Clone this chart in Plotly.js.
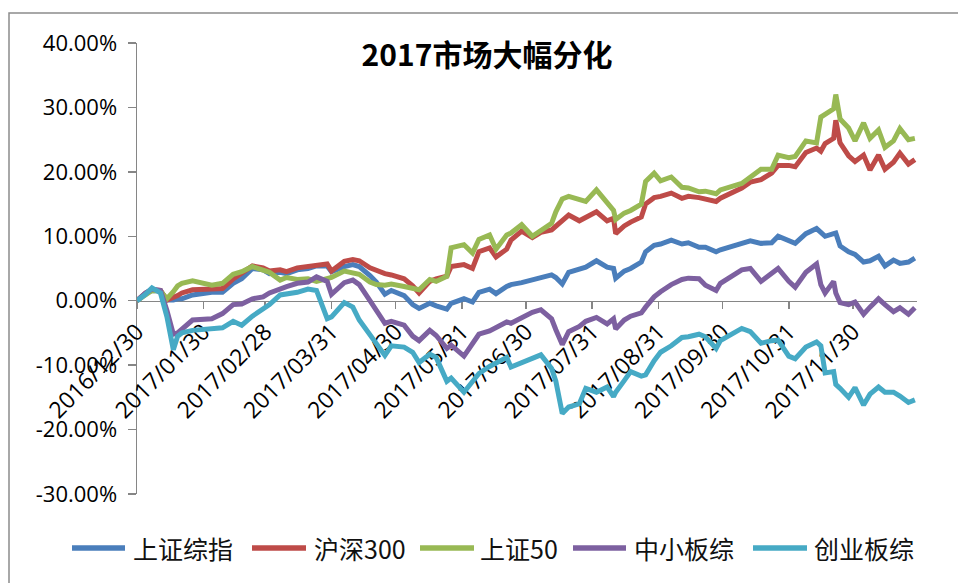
<!DOCTYPE html>
<html>
<head>
<meta charset="utf-8">
<script src="https://cdn.plot.ly/plotly-3.0.1.min.js"></script>
<style>
html,body{margin:0;padding:0;background:#fff;}
#chart{width:958px;height:583px;}
</style>
</head>
<body>
<div id="chart"></div>
<script>
const dates = [
'2016-12-30','2017-01-03','2017-01-06','2017-01-10','2017-01-13','2017-01-16','2017-01-18','2017-01-20','2017-01-25','2017-02-03',
'2017-02-08','2017-02-13','2017-02-17','2017-02-22','2017-02-27','2017-03-02','2017-03-07','2017-03-10','2017-03-15','2017-03-20',
'2017-03-24','2017-03-29','2017-03-31','2017-04-06','2017-04-10','2017-04-13','2017-04-18','2017-04-21','2017-04-25','2017-04-28',
'2017-05-04','2017-05-08','2017-05-11','2017-05-16','2017-05-19','2017-05-24','2017-05-26','2017-06-01','2017-06-05','2017-06-08',
'2017-06-13','2017-06-16','2017-06-21','2017-06-23','2017-06-28','2017-07-03','2017-07-07','2017-07-12','2017-07-14','2017-07-17',
'2017-07-20','2017-07-25','2017-07-28','2017-08-02','2017-08-07','2017-08-10','2017-08-11','2017-08-15','2017-08-18','2017-08-23',
'2017-08-25','2017-08-29','2017-09-01','2017-09-06','2017-09-11','2017-09-14','2017-09-19','2017-09-22','2017-09-27','2017-09-29',
'2017-10-09','2017-10-13','2017-10-18','2017-10-23','2017-10-26','2017-10-31','2017-11-03','2017-11-08','2017-11-13','2017-11-15',
'2017-11-17','2017-11-21','2017-11-22','2017-11-24','2017-11-28','2017-12-01','2017-12-05','2017-12-08','2017-12-12','2017-12-15',
'2017-12-19','2017-12-22','2017-12-26','2017-12-29'];

// values in percent
const shComposite = [
0,1.1,1.6,1.5,0.1,0.1,0.3,0.3,0.9,1.3,
1.3,2.7,3.4,5.0,4.8,4.2,4.4,4.2,4.8,5.0,
5.4,5.4,4.5,5.3,5.6,5.3,3.9,2.9,1.0,1.6,
0.8,-0.6,-1.2,-0.4,-0.8,-1.3,-0.4,0.3,-0.2,1.3,
1.8,1.1,2.2,2.5,2.8,3.2,3.6,4.0,3.6,2.6,
4.4,4.8,5.2,6.2,5.2,5.0,3.5,4.6,5.0,6.0,
7.6,8.6,8.8,9.4,8.8,9.0,8.3,8.3,7.6,7.9,
8.8,9.3,8.9,9.0,10.0,9.3,8.9,10.4,11.2,10.6,
10.0,10.4,10.5,8.5,7.6,7.2,6.0,6.2,6.9,5.4,
6.3,5.8,6.0,6.6];

const hs300 = [
0,1.2,1.7,1.6,0.1,0.4,0.8,1.2,1.7,1.8,
1.9,3.4,4.2,5.4,5.1,4.6,4.8,4.5,5.1,5.3,
5.6,5.7,4.6,6.1,6.4,6.2,5.1,4.7,4.2,4.0,
3.4,2.3,1.2,3.0,3.4,3.8,5.3,5.6,5.0,7.6,
8.2,6.8,8.0,9.4,10.8,9.8,10.6,11.0,11.6,12.4,
13.3,12.4,13.0,13.8,12.4,12.8,10.4,11.6,12.2,13.0,
15.0,16.0,16.2,16.7,15.9,16.2,16.0,15.8,15.4,15.9,
17.5,18.4,18.8,19.8,21.0,21.0,20.8,23.0,23.7,23.2,
24.4,25.2,28.0,24.5,22.5,21.6,22.6,20.3,22.6,20.4,
21.5,22.9,21.2,21.9];

const sse50 = [
0,1.0,1.6,1.5,0.3,1.4,2.3,2.7,3.1,2.4,
2.7,4.1,4.5,5.3,4.8,4.4,3.2,3.6,3.3,3.4,
3.0,3.4,3.6,4.6,4.4,4.1,2.9,2.5,2.4,2.6,
2.2,1.8,1.7,3.3,3.0,3.8,8.2,8.7,7.4,9.5,
10.2,8.0,10.2,10.5,11.8,10.0,10.8,12.0,13.8,15.8,
16.2,15.8,15.4,17.2,15.2,14.0,12.6,13.6,14.0,15.0,
18.5,19.8,18.6,19.2,17.6,17.5,16.9,17.0,16.6,17.2,
18.2,19.2,20.4,20.4,22.6,22.2,22.4,24.8,24.5,28.5,
29.0,29.8,32.0,28.2,26.8,24.8,27.6,25.2,26.5,23.8,
24.8,26.7,25.0,25.2];

const smeComposite = [
0,1.2,1.8,1.6,-1.5,-5.2,-5.0,-4.4,-3.0,-2.8,
-2.0,-0.6,-0.5,0.3,0.6,1.2,1.9,2.2,2.7,2.9,
3.7,3.0,1.0,2.8,3.2,2.5,0.0,-1.5,-3.5,-3.2,
-3.8,-5.5,-6.2,-4.6,-5.4,-7.4,-6.9,-8.6,-6.6,-5.2,
-4.7,-4.2,-3.3,-3.5,-2.6,-1.8,-1.4,-2.8,-4.5,-6.8,
-4.8,-4.0,-3.2,-2.6,-3.6,-2.8,-4.4,-3.0,-2.4,-1.9,
-1.0,0.6,1.4,2.5,3.3,3.5,3.4,2.4,1.6,2.7,
4.8,5.0,3.0,4.4,5.0,3.0,2.1,4.4,5.7,2.5,
1.2,3.0,1.2,-0.3,-0.6,-0.2,-2.1,-1.0,0.3,-0.6,
-1.7,-1.1,-2.1,-1.1];

const chinextComposite = [
0,1.0,2.0,1.2,-2.5,-7.6,-5.5,-5.0,-4.6,-4.4,
-4.2,-3.2,-3.8,-2.4,-1.4,-0.6,0.9,1.0,1.3,1.8,
1.6,-2.8,-2.5,-0.3,-1.0,-3.0,-5.2,-6.5,-8.5,-7.0,
-7.2,-8.0,-9.6,-8.3,-8.8,-12.5,-12.0,-14.2,-12.5,-11.3,
-10.2,-9.6,-8.8,-10.3,-9.6,-9.0,-8.4,-10.5,-12.5,-17.5,
-16.5,-16.0,-13.6,-14.2,-13.4,-14.9,-14.2,-12.4,-11.0,-11.7,
-11.5,-9.3,-8.0,-7.0,-5.7,-5.6,-5.2,-5.6,-7.4,-6.2,
-4.3,-4.8,-6.6,-6.2,-6.1,-8.6,-9.0,-7.2,-6.4,-7.0,
-11.2,-11.0,-13.0,-13.6,-15.0,-13.5,-16.2,-14.5,-13.4,-14.2,
-14.2,-14.8,-15.8,-15.4];

const seriesNames = ['上证综指','沪深300','上证50','中小板综','创业板综'];
const seriesColors = ['#4A7EBB','#BE4B48','#98B954','#7D60A0','#46AAC5'];
const seriesValues = [shComposite, hs300, sse50, smeComposite, chinextComposite];

const xTickDates = ['2016-12-30','2017-01-30','2017-02-28','2017-03-31','2017-04-30','2017-05-31','2017-06-30','2017-07-31','2017-08-31','2017-09-30','2017-10-31','2017-11-30'];
const xTickLabels = ['2016/12/30','2017/01/30','2017/02/28','2017/03/31','2017/04/30','2017/05/31','2017/06/30','2017/07/31','2017/08/31','2017/09/30','2017/10/31','2017/11/30'];
const yTickValues = [-30,-20,-10,0,10,20,30,40];
const yTickLabels = ['-30.00%','-20.00%','-10.00%','0.00%','10.00%','20.00%','30.00%','40.00%'];

const W = 958, H = 583;
const L = 137, R = 41, T = 43, B = 89;
const pw = W - L - R, ph = H - T - B;
const px = x => (x - L) / pw;
const py = y => (H - B - y) / ph;

const traces = seriesNames.map((n, i) => ({
  type: 'scatter', mode: 'lines', name: n,
  x: dates, y: seriesValues[i],
  line: {color: seriesColors[i], width: 5, shape: 'linear'},
  hoverinfo: 'skip'
}));

// legend layout (positions in pixels)
const legendLines = [[72,125],[252,306],[420,474],[573,626],[753,807]];
const legendTextX = [131,312,478,632,812];
const legendY = 548;

const shapes = [{
  type:'rect', xref:'paper', yref:'paper',
  x0: px(9), x1: px(964), y0: py(590), y1: py(13),
  line:{color:'#8c8c8c', width:1.5}, fillcolor:'rgba(0,0,0,0)', layer:'below'
}];
const annotations = [];
seriesNames.forEach((n, i) => {
  shapes.push({type:'line', xref:'paper', yref:'paper',
    x0: px(legendLines[i][0]), x1: px(legendLines[i][1]), y0: py(legendY), y1: py(legendY),
    line:{color: seriesColors[i], width:5.5}});
  annotations.push({xref:'paper', yref:'paper', x: px(legendTextX[i]), y: py(legendY),
    xanchor:'left', yanchor:'middle', showarrow:false, text:n,
    font:{family:'Noto Sans CJK SC, sans-serif', size:25, color:'#111'}});
});

const axisGray = '#868686';
const layout = {
  width: W, height: H,
  margin: {l:L, r:R, t:T, b:B, pad:0},
  paper_bgcolor:'#ffffff', plot_bgcolor:'#ffffff',
  showlegend:false,
  title: {text:'<b>2017市场大幅分化</b>', xref:'container', yref:'container',
    x: 487/W, xanchor:'center', y: 1 - 55/H, yanchor:'middle',
    font:{family:'Noto Sans CJK SC, sans-serif', size:30, color:'#000'}},
  xaxis: {type:'date', range:['2016-12-30','2017-12-30'],
    tickmode:'array', tickvals:xTickDates, ticktext:xTickLabels, tickangle:-45,
    ticks:'outside', ticklen:7, tickwidth:1.5, tickcolor:axisGray,
    showline:true, linecolor:axisGray, linewidth:1.5,
    showgrid:false, zeroline:false, anchor:'free', position:3/7,
    layer:'below traces', automargin:false,
    tickfont:{family:'Open Sans, sans-serif', size:23, color:'#000'}},
  yaxis: {range:[-30,40], tickmode:'array', tickvals:yTickValues, ticktext:yTickLabels,
    ticks:'outside', ticklen:8, tickwidth:1.5, tickcolor:axisGray,
    showline:true, linecolor:axisGray, linewidth:1.5,
    showgrid:false, zeroline:false, layer:'below traces', automargin:false,
    ticklabelstandoff: 6,
    tickfont:{family:'Open Sans, sans-serif', size:22, color:'#000'}},
  shapes: shapes,
  annotations: annotations
};

Plotly.newPlot('chart', traces, layout, {staticPlot:true, displayModeBar:false});
</script>
</body>
</html>
